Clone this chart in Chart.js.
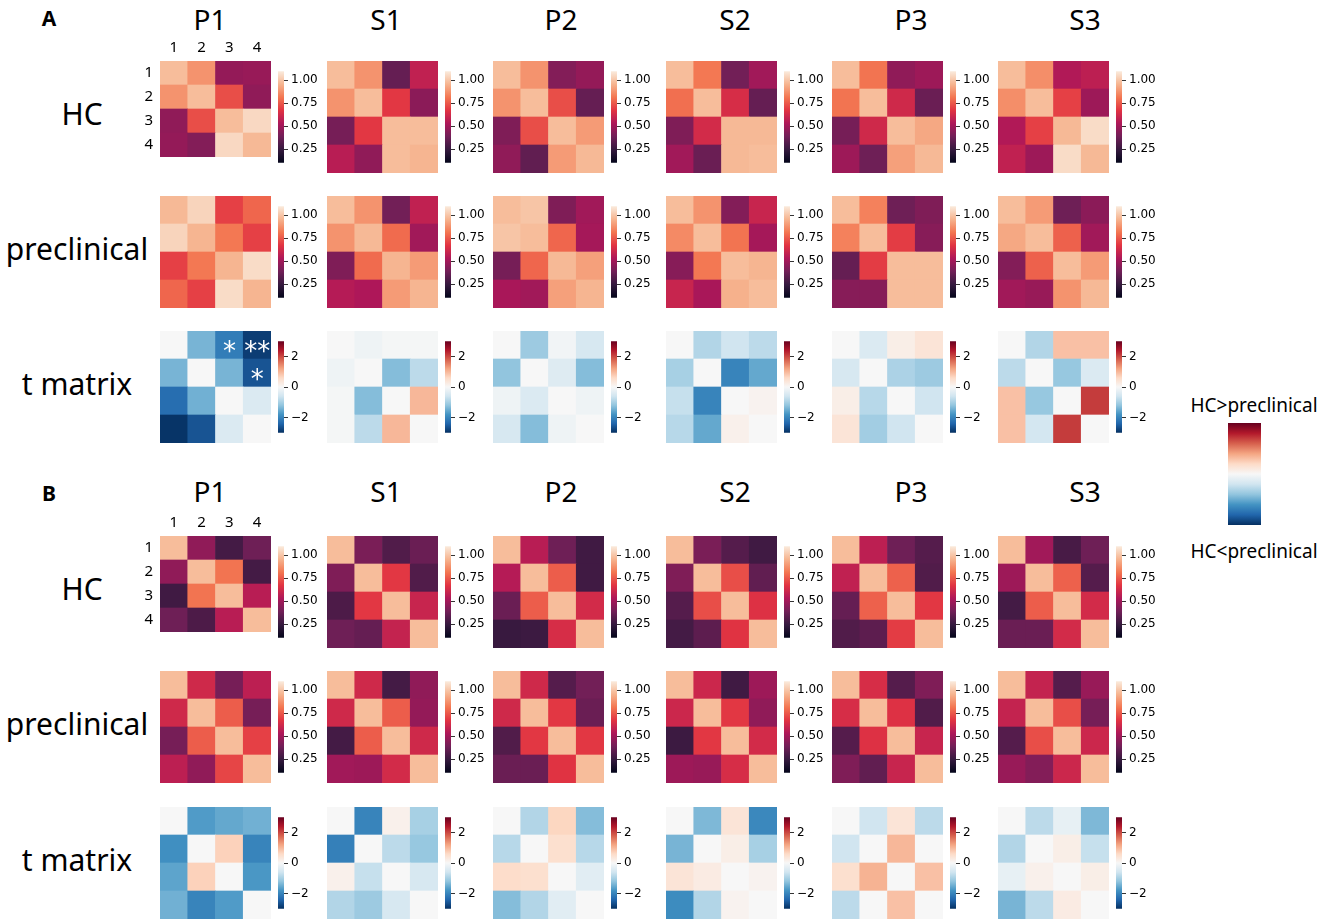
<!DOCTYPE html>
<html>
<head>
<meta charset="utf-8">
<script src="https://cdn.jsdelivr.net/npm/chart.js@4.4.1/dist/chart.umd.min.js"></script>
<style>
  body { margin: 0; background: #fff; }
  #fig { position: relative; width: 1325px; height: 924px; overflow: hidden; font-family: 'Noto Sans', sans-serif; color: #000; }
  #fig canvas { position: absolute; }
  .lbl { position: absolute; white-space: nowrap; transform: translate(-50%, -50%); line-height: 1; }
</style>
</head>
<body>
<div id="fig"></div>
<script>
const columns = ['P1', 'S1', 'P2', 'S2', 'P3', 'S3'];
const rowNames = ['HC', 'preclinical', 't matrix'];
const cellLabels = ['1', '2', '3', '4'];
const corrTicks = [0.25, 0.5, 0.75, 1.0];
const tTicks = [-2, 0, 2];
const corrRange = [0.1, 1.1];
const tRange = [-3, 3];

// panel A, one 4x4 matrix per column (P1, S1, P2, S2, P3, S3)
const hcA = [
  [[0.98,0.88,0.47,0.48],[0.88,0.98,0.73,0.46],[0.46,0.73,0.98,1.05],[0.47,0.43,1.05,0.97]],
  [[0.98,0.88,0.36,0.58],[0.88,0.98,0.68,0.45],[0.40,0.68,0.98,0.98],[0.56,0.46,0.98,0.96]],
  [[0.98,0.88,0.43,0.47],[0.88,0.98,0.73,0.36],[0.42,0.73,0.98,0.90],[0.46,0.35,0.90,0.97]],
  [[0.98,0.82,0.39,0.50],[0.80,0.98,0.64,0.36],[0.42,0.63,0.97,0.97],[0.50,0.37,0.97,0.98]],
  [[0.98,0.81,0.46,0.49],[0.81,0.98,0.62,0.37],[0.40,0.62,0.98,0.93],[0.49,0.38,0.91,0.97]],
  [[0.98,0.87,0.54,0.57],[0.87,0.98,0.70,0.49],[0.54,0.70,0.97,1.06],[0.58,0.49,1.06,0.97]]
];
const preA = [
  [[0.97,1.04,0.70,0.78],[1.04,0.96,0.82,0.70],[0.70,0.82,0.96,1.06],[0.78,0.70,1.06,0.96]],
  [[0.98,0.88,0.39,0.58],[0.88,0.97,0.79,0.50],[0.42,0.79,0.96,0.90],[0.55,0.53,0.90,0.96]],
  [[0.98,1.00,0.42,0.50],[1.00,0.98,0.78,0.51],[0.40,0.78,0.97,0.91],[0.52,0.50,0.91,0.96]],
  [[0.98,0.88,0.43,0.60],[0.86,0.98,0.81,0.51],[0.44,0.82,0.98,0.96],[0.60,0.52,0.95,0.98]],
  [[0.98,0.84,0.38,0.42],[0.84,0.98,0.69,0.44],[0.36,0.69,0.98,0.98],[0.44,0.44,0.98,0.98]],
  [[0.98,0.90,0.38,0.45],[0.93,0.98,0.77,0.50],[0.43,0.77,0.98,0.90],[0.50,0.48,0.88,0.97]]
];
const tA = [
  [[0,-1.4,-2.1,-2.85],[-1.4,0,-1.4,-2.6],[-2.3,-1.45,0,-0.45],[-2.95,-2.6,-0.45,0]],
  [[0,-0.15,-0.05,-0.05],[-0.15,0,-1.3,-0.8],[-0.05,-1.3,0,1.0],[-0.05,-0.8,1.0,0]],
  [[0,-1.1,-0.1,-0.5],[-1.2,0,-0.4,-1.3],[-0.15,-0.45,0,-0.15],[-0.5,-1.3,-0.15,0]],
  [[0,-0.9,-0.6,-0.8],[-1.0,0,-2.0,-1.55],[-0.7,-2.0,0,0.1],[-0.85,-1.55,0.15,0]],
  [[0,-0.45,0.2,0.4],[-0.5,0,-0.95,-1.1],[0.2,-0.85,0,-0.6],[0.4,-1.05,-0.6,0]],
  [[0,-0.9,0.9,0.9],[-0.8,0,-1.15,-0.45],[0.9,-1.15,0,2.1],[0.9,-0.55,2.1,0]]
];
const starsA_P1 = [['','','*','**'],['','','','*'],['','','',''],['','','','']];

// panel B
const hcB = [
  [[0.98,0.46,0.28,0.38],[0.46,0.98,0.81,0.28],[0.27,0.81,0.98,0.56],[0.38,0.30,0.56,0.98]],
  [[0.98,0.41,0.31,0.37],[0.42,0.98,0.68,0.31],[0.30,0.68,0.98,0.60],[0.38,0.36,0.59,0.98]],
  [[0.98,0.56,0.38,0.27],[0.55,0.98,0.76,0.27],[0.37,0.76,0.98,0.63],[0.25,0.26,0.64,0.98]],
  [[0.98,0.41,0.32,0.27],[0.42,0.98,0.73,0.35],[0.32,0.73,0.98,0.66],[0.28,0.34,0.67,0.98]],
  [[0.98,0.57,0.38,0.32],[0.58,0.98,0.77,0.31],[0.36,0.77,0.98,0.68],[0.31,0.34,0.69,0.98]],
  [[0.98,0.50,0.29,0.38],[0.49,0.98,0.77,0.32],[0.28,0.76,0.98,0.63],[0.37,0.37,0.63,0.98]]
];
const preB = [
  [[0.98,0.62,0.40,0.57],[0.62,0.98,0.76,0.40],[0.40,0.76,0.98,0.70],[0.57,0.46,0.71,0.98]],
  [[0.98,0.62,0.28,0.46],[0.62,0.98,0.76,0.47],[0.28,0.76,0.98,0.62],[0.50,0.49,0.63,0.98]],
  [[0.98,0.62,0.32,0.39],[0.62,0.98,0.68,0.37],[0.31,0.68,0.98,0.68],[0.37,0.37,0.67,0.98]],
  [[0.98,0.61,0.27,0.49],[0.61,0.98,0.68,0.46],[0.26,0.68,0.98,0.63],[0.49,0.48,0.64,0.98]],
  [[0.98,0.64,0.32,0.42],[0.64,0.98,0.66,0.31],[0.32,0.66,0.98,0.60],[0.42,0.35,0.60,0.98]],
  [[0.98,0.59,0.32,0.48],[0.59,0.98,0.73,0.40],[0.32,0.73,0.98,0.61],[0.48,0.43,0.61,0.98]]
];
const tB = [
  [[0,-1.7,-1.55,-1.45],[-1.85,0,0.7,-2.0],[-1.6,0.7,0,-1.75],[-1.45,-2.0,-1.7,0]],
  [[0,-2.0,0.15,-1.0],[-2.05,0,-0.8,-1.15],[0.15,-0.7,0,-0.5],[-0.9,-1.1,-0.5,0]],
  [[0,-0.9,0.65,-1.3],[-0.85,0,0.5,-0.85],[0.55,0.5,0,-0.35],[-1.3,-0.9,-0.35,0]],
  [[0,-1.35,0.4,-1.95],[-1.4,0,0.2,-1.0],[0.4,0.25,0,0.1],[-1.9,-0.9,0.1,0]],
  [[0,-0.6,0.4,-0.8],[-0.6,0,1.0,0],[0.5,1.05,0,0.9],[-0.8,0,0.9,0]],
  [[0,-0.8,-0.25,-1.35],[-0.9,0,0.2,-0.7],[-0.25,0.15,0,0.2],[-1.4,-0.8,0.25,0]]
];

// colormaps (seaborn rocket, matplotlib RdBu_r)
const rocket = ['#03051a','#35193e','#701f57','#ad1759','#e13342','#f37651','#f6b48f','#faebdd'];
const rdbuR = ['#053061','#2166ac','#4393c3','#92c5de','#d1e5f0','#f7f7f7','#fddbc7','#f4a582','#d6604d','#b2182b','#67001f'];

function hexRgb(h) {
  return [1, 3, 5].map(i => parseInt(h.slice(i, i + 2), 16));
}
function sample(stops, t) {
  t = Math.max(0, Math.min(1, t));
  const n = stops.length - 1;
  const k = Math.min(n - 1, Math.floor(t * n));
  const f = t * n - k;
  const a = hexRgb(stops[k]), b = hexRgb(stops[k + 1]);
  return 'rgb(' + a.map((v, i) => Math.round(v + (b[i] - v) * f)).join(',') + ')';
}
function gradientFill(chart, stops) {
  const area = chart.chartArea;
  if (!area) return stops[0];
  const g = chart.ctx.createLinearGradient(0, area.bottom, 0, area.top);
  stops.forEach((s, i) => g.addColorStop(i / (stops.length - 1), s));
  return g;
}

const fig = document.getElementById('fig');
const MAP_W = 111, MAP_H = 112, AX = 26;
const mapX = [160, 326.5, 493, 666, 832, 998];
const titleX = [210, 386, 561, 735, 911, 1085];

function addCanvas(left, top, w, h) {
  const cv = document.createElement('canvas');
  cv.width = w; cv.height = h;
  cv.style.left = left + 'px'; cv.style.top = top + 'px';
  cv.style.width = w + 'px'; cv.style.height = h + 'px';
  fig.appendChild(cv);
  return cv;
}
function addText(text, x, y, size, weight) {
  const d = document.createElement('div');
  d.className = 'lbl';
  d.textContent = text;
  d.style.left = x + 'px'; d.style.top = y + 'px';
  d.style.fontSize = size + 'px';
  if (weight) d.style.fontWeight = weight;
  fig.appendChild(d);
}

const base = {
  responsive: false, animation: false, events: [],
  layout: { padding: 0 },
  plugins: { legend: { display: false }, tooltip: { enabled: false } }
};

function drawHeatmap(left, top, matrix, stops, range, showLabels, marks) {
  const cv = addCanvas(left - AX, top - AX, MAP_W + AX, MAP_H + AX);
  const datasets = matrix.map(row => ({
    data: row.map(() => 1),
    backgroundColor: row.map(v => sample(stops, (v - range[0]) / (range[1] - range[0]))),
    borderWidth: 0, barPercentage: 1, categoryPercentage: 1
  })).reverse();
  const labelFont = { family: 'Noto Sans', size: 15 };
  new Chart(cv, {
    type: 'bar',
    data: { labels: cellLabels, datasets },
    options: {
      ...base,
      scales: {
        x: {
          type: 'category', position: 'top', stacked: true,
          grid: { display: false, drawTicks: false }, border: { display: false },
          ticks: { display: showLabels, padding: 4, font: labelFont, color: '#000', maxRotation: 0 },
          afterFit: s => { s.height = AX; }
        },
        y: {
          type: 'linear', stacked: true, min: 0, max: 4,
          grid: { display: false, drawTicks: false }, border: { display: false },
          afterBuildTicks: s => { s.ticks = cellLabels.map((_, i) => ({ value: 3.5 - i })); },
          ticks: { display: showLabels, padding: 7, font: labelFont, color: '#000',
                   callback: v => cellLabels[Math.round(3.5 - v)] },
          afterFit: s => { s.width = AX; }
        }
      }
    },
    plugins: [{
      id: 'marks',
      afterDatasetsDraw(chart) {
        if (!marks) return;
        const { ctx, scales: { x, y } } = chart;
        ctx.save();
        ctx.fillStyle = '#fff';
        ctx.font = '26px "DejaVu Sans"';
        ctx.textAlign = 'center';
        marks.forEach((row, r) => row.forEach((m, c) => {
          if (m) ctx.fillText(m, x.getPixelForValue(c), y.getPixelForValue(3.5 - r) + 15);
        }));
        ctx.restore();
      }
    }]
  });
}

function drawColorbar(left, top, w, h, stops, range, ticks, fmt) {
  const axisW = ticks ? 46 : 0;
  const cv = addCanvas(left, top, w + axisW, h);
  new Chart(cv, {
    type: 'bar',
    data: {
      labels: [''],
      datasets: [{
        data: [range],
        backgroundColor: c => gradientFill(c.chart, stops),
        borderWidth: 0, barPercentage: 1, categoryPercentage: 1
      }]
    },
    options: {
      ...base,
      scales: {
        x: { display: false },
        y: {
          display: !!ticks, position: 'right', min: range[0], max: range[1],
          afterBuildTicks: s => { if (ticks) s.ticks = ticks.map(v => ({ value: v })); },
          ticks: { callback: fmt, padding: 3, font: { family: 'DejaVu Sans', size: 12 }, color: '#000' },
          grid: { display: true, drawOnChartArea: false, drawTicks: true, tickLength: 4, color: '#000', lineWidth: 0.8 },
          border: { display: false },
          afterFit: s => { s.width = axisW; }
        }
      }
    }
  });
}

const corrFmt = v => v.toFixed(2);
const tFmt = v => (v < 0 ? '\u2212' + Math.abs(v) : String(v));

const panels = [
  { letter: 'A', letterY: 18, titleY: 19, tops: [61, 196, 331], rows: [hcA, preA, tA] },
  { letter: 'B', letterY: 493, titleY: 491, tops: [536, 671, 807], rows: [hcB, preB, tB] }
];

panels.forEach((p, pi) => {
  addText(p.letter, 49, p.letterY, 21, 'bold');
  columns.forEach((name, ci) => addText(name, titleX[ci], p.titleY, 28));
  p.rows.forEach((mats, ri) => {
    const top = p.tops[ri];
    const isT = ri === 2;
    addText(rowNames[ri], ri === 0 ? 82 : 77, top + MAP_H / 2 - 3, 30);
    mats.forEach((m, ci) => {
      const stops = isT ? rdbuR : rocket;
      const range = isT ? tRange : corrRange;
      const marks = (pi === 0 && isT && ci === 0) ? starsA_P1 : null;
      drawHeatmap(mapX[ci], top, m, stops, range, ri === 0 && ci === 0, marks);
      drawColorbar(mapX[ci] + 118, top, 6, MAP_H, stops, range, isT ? tTicks : corrTicks, isT ? tFmt : corrFmt);
    });
  });
});

// legend for the t matrices
addText('HC>preclinical', 1254, 405, 19);
drawColorbar(1228, 423, 33, 102, rdbuR, tRange, null, null);
addText('HC<preclinical', 1254, 551, 19);
</script>
</body>
</html>
